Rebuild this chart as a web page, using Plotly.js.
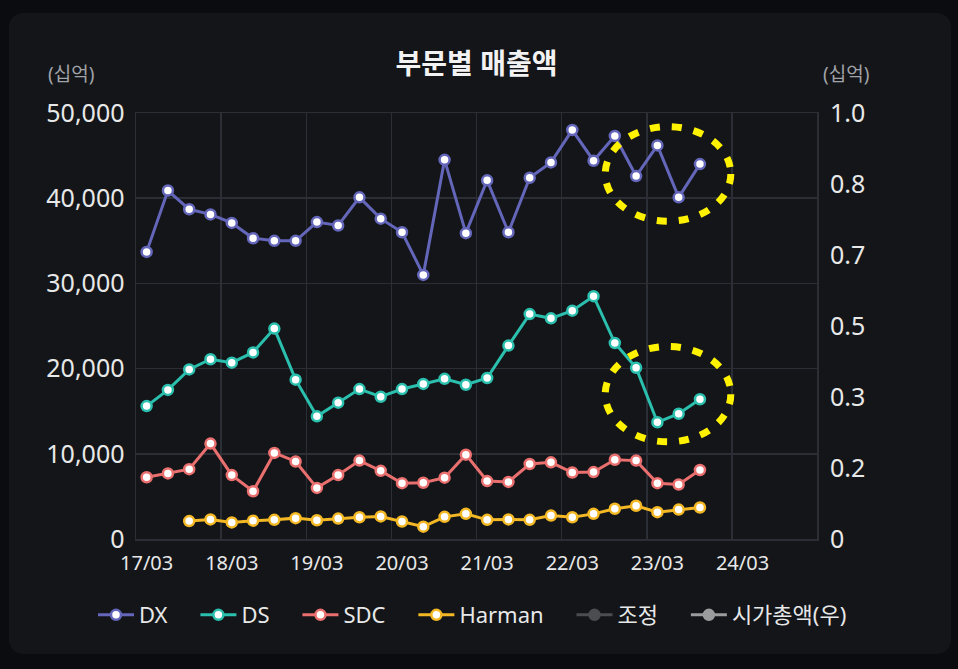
<!DOCTYPE html>
<html>
<head>
<meta charset="utf-8">
<script src="https://cdn.plot.ly/plotly-3.0.1.min.js"></script>
<style>
  html, body { margin: 0; padding: 0; background: #0a0c0f; width: 958px; height: 669px; overflow: hidden; }
  #panel { position: absolute; left: 9px; top: 13px; width: 942px; height: 641px; border-radius: 14px; background: #131519; }
  #chart { position: absolute; left: 0; top: 0; width: 958px; height: 669px; }
</style>
</head>
<body>
<div id="panel"></div>
<div id="chart"></div>
<script>
// Quarter labels (17/03 ... 23/09)
const quarters = ['17/03','17/06','17/09','17/12','18/03','18/06','18/09','18/12','19/03','19/06','19/09','19/12',
  '20/03','20/06','20/09','20/12','21/03','21/06','21/09','21/12','22/03','22/06','22/09','22/12','23/03','23/06','23/09'];
const tickLabels = ['17/03','18/03','19/03','20/03','21/03','22/03','23/03','24/03'];

// Revenue by segment (KRW billions)
const dx = [33700, 40900, 38700, 38100, 37100, 35300, 35000, 35000, 37200, 36800, 40100, 37600,
  36000, 31000, 44500, 35900, 42100, 36000, 42400, 44200, 48000, 44400, 47300, 42600, 46200, 40100, 44000];
const ds = [15600, 17500, 19900, 21100, 20700, 21900, 24700, 18700, 14400, 16000, 17600, 16700,
  17600, 18200, 18800, 18100, 18900, 22700, 26400, 25900, 26800, 28500, 23000, 20100, 13700, 14700, 16400];
const sdc = [7250, 7700, 8200, 11200, 7500, 5600, 10100, 9100, 6000, 7500, 9200, 8000,
  6550, 6600, 7200, 9900, 6800, 6700, 8800, 9000, 7800, 7850, 9300, 9200, 6550, 6400, 8100];
const harman = [null, null, 2100, 2300, 1950, 2150, 2250, 2450, 2200, 2400, 2550, 2650,
  2050, 1450, 2600, 2950, 2250, 2300, 2250, 2750, 2550, 2950, 3550, 3900, 3150, 3450, 3700];
const adjust = [null];      // 조정 (no values shown)
const marketCap = [null];   // 시가총액(우) (no values shown)

const rightTickVals = [0, 1/6, 2/6, 3/6, 4/6, 5/6, 1];
const rightTickText = ['0', '0.2', '0.3', '0.5', '0.7', '0.8', '1.0'];

const idx = quarters.map((q, i) => i);
const tickVals = tickLabels.map((t, i) => i * 4);
const gridVals = tickLabels.map((t, i) => i * 4 - 0.5);

const FONT = 'Noto Sans, "Noto Sans CJK KR", sans-serif';
const GRID = '#2b2e35';
const PAD = '\u00a0\u00a0\u00a0\u00a0';

function series(name, y, color, yaxis, fill) {
  return {
    type: 'scatter', mode: 'lines+markers', name: name + PAD,
    x: idx.slice(0, y.length), y: y, yaxis: yaxis || 'y',
    line: { color: color, width: 3 },
    marker: { symbol: 'circle', size: 10, color: fill || '#ffffff', line: { color: color, width: 2.5 } },
    hoverinfo: 'skip', connectgaps: false
  };
}

const traces = [
  series('DX', dx, '#6466ba'),
  series('DS', ds, '#2bbfae'),
  series('SDC', sdc, '#ea6f6f'),
  series('Harman', harman, '#f3b824'),
  series('조정', adjust, '#4c4d50', 'y', '#4c4d50'),
  series('시가총액(우)', marketCap, '#9b9c9e', 'y2', '#9b9c9e')
];

const layout = {
  width: 958, height: 669,
  paper_bgcolor: 'rgba(0,0,0,0)', plot_bgcolor: 'rgba(0,0,0,0)',
  margin: { l: 136, r: 141, t: 113, b: 130 },
  font: { family: FONT, color: '#e8e8e8' },
  showlegend: true,
  title: { text: '<b>부문별 매출액</b>', x: 0.5, xref: 'paper', xanchor: 'center', y: 1 - 64/669, yref: 'container', yanchor: 'middle',
           font: { family: FONT, size: 28, color: '#f2f2f2' } },
  xaxis: {
    range: [-0.5, 31.5], tickmode: 'array', tickvals: tickVals, ticktext: tickLabels,
    showgrid: false, zeroline: false, showline: true, mirror: true, linecolor: GRID, linewidth: 1.5,
    ticks: '', ticklabelstandoff: 5,
    tickfont: { family: FONT, size: 20, color: '#e8e8e8' },
    minor: { tickmode: 'array', tickvals: gridVals, showgrid: true, gridcolor: GRID, gridwidth: 1.5, ticks: '' }
  },
  yaxis: {
    range: [0, 50000], dtick: 10000, tickformat: ',d',
    showgrid: true, gridcolor: GRID, gridwidth: 1.5, zeroline: false,
    showline: true, mirror: true, linecolor: GRID, linewidth: 1.5,
    ticks: '', ticklabelstandoff: 5,
    tickfont: { family: FONT, size: 25, color: '#e8e8e8' }
  },
  yaxis2: {
    range: [0, 1], overlaying: 'y', side: 'right', tickmode: 'array',
    tickvals: rightTickVals, ticktext: rightTickText,
    showgrid: false, zeroline: false, showline: false, ticks: '', ticklabelstandoff: 12,
    tickfont: { family: FONT, size: 25, color: '#e8e8e8' }
  },
  legend: {
    orientation: 'h', x: (115 - 22 - 136) / 681, xanchor: 'left', y: (539 - 615) / 426, yanchor: 'middle',
    itemwidth: 36,
    font: { family: FONT, size: 22, color: '#e8e8e8' }, bgcolor: 'rgba(0,0,0,0)'
  },
  annotations: [
    { text: '(십억)', xref: 'paper', yref: 'paper', x: (71 - 136) / 681, y: (539 - 74) / 426, showarrow: false,
      xanchor: 'center', yanchor: 'middle', font: { family: FONT, size: 19, color: '#a0a3a8' } },
    { text: '(십억)', xref: 'paper', yref: 'paper', x: (846 - 136) / 681, y: (539 - 74) / 426, showarrow: false,
      xanchor: 'center', yanchor: 'middle', font: { family: FONT, size: 19, color: '#a0a3a8' } }
  ],
  shapes: [
    { type: 'circle', xref: 'x', yref: 'y', x0: 21.55, x1: 27.45, y0: 37300, y1: 48400,
      line: { color: '#fff200', width: 7, dash: '10px,12px' } },
    { type: 'circle', xref: 'x', yref: 'y', x0: 21.55, x1: 27.45, y0: 11400, y1: 22600,
      line: { color: '#fff200', width: 7, dash: '10px,12px' } }
  ]
};

Plotly.newPlot('chart', traces, layout, { staticPlot: true, displayModeBar: false });
</script>
</body>
</html>
